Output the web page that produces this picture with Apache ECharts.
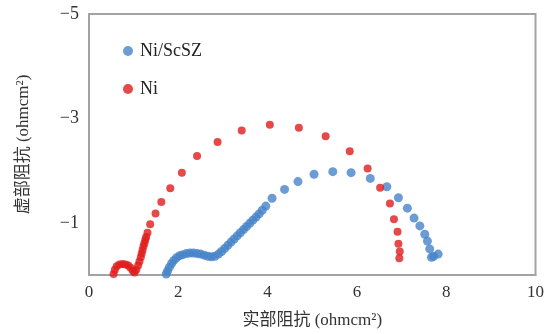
<!DOCTYPE html>
<html>
<head>
<meta charset="utf-8">
<script src="https://cdn.jsdelivr.net/npm/echarts@6/dist/echarts.min.js"></script>
<style>
  html, body { margin: 0; padding: 0; background: #fff; }
  #chart { width: 547px; height: 334px; }
</style>
</head>
<body>
<div id="chart"></div>
<script>
// Ni/ScSZ (blue)
const scszX = [1.73, 1.76, 1.80, 1.85, 1.90, 1.96, 2.03, 2.10, 2.18, 2.26, 2.34, 2.42, 2.50, 2.58, 2.66, 2.74, 2.82, 2.90, 2.97, 3.04, 3.11, 3.18, 3.25, 3.32, 3.39, 3.46, 3.53, 3.60, 3.67, 3.74, 3.81, 3.88, 3.96, 4.10, 4.38, 4.68, 5.04, 5.46, 5.87, 6.30, 6.67, 6.93, 7.13, 7.28, 7.41, 7.52, 7.58, 7.63, 7.67, 7.72, 7.82];
const scszY = [-0.02, -0.08, -0.15, -0.22, -0.28, -0.33, -0.37, -0.39, -0.41, -0.42, -0.42, -0.41, -0.40, -0.38, -0.36, -0.35, -0.36, -0.40, -0.45, -0.51, -0.57, -0.63, -0.69, -0.75, -0.81, -0.87, -0.93, -0.99, -1.05, -1.11, -1.17, -1.24, -1.32, -1.47, -1.64, -1.79, -1.93, -1.98, -1.96, -1.85, -1.69, -1.48, -1.28, -1.09, -0.94, -0.78, -0.65, -0.50, -0.34, -0.36, -0.40];

// Ni (red)
const niX = [0.55, 0.58, 0.62, 0.68, 0.75, 0.82, 0.88, 0.93, 0.98, 1.02, 1.06, 1.10, 1.13, 1.16, 1.18, 1.20, 1.22, 1.24, 1.26, 1.28, 1.31, 1.37, 1.49, 1.62, 1.82, 2.08, 2.42, 2.88, 3.42, 4.05, 4.70, 5.30, 5.84, 6.24, 6.52, 6.74, 6.83, 6.91, 6.93, 6.96, 6.95];
const niY = [-0.02, -0.10, -0.17, -0.20, -0.21, -0.20, -0.18, -0.14, -0.08, -0.05, -0.10, -0.18, -0.26, -0.34, -0.41, -0.48, -0.55, -0.61, -0.67, -0.73, -0.81, -0.97, -1.18, -1.40, -1.66, -1.96, -2.28, -2.55, -2.77, -2.88, -2.82, -2.66, -2.37, -2.04, -1.67, -1.37, -1.07, -0.83, -0.60, -0.45, -0.32];

const seriesNames = ["Ni/ScSZ", "Ni"];

function pairs(xs, ys) {
  return xs.map((x, i) => [x, ys[i]]);
}

const serif = "'Liberation Serif', 'Times New Roman', serif";
const cjk = "'Liberation Serif', 'Noto Sans CJK SC', serif";

const chart = echarts.init(document.getElementById("chart"));
chart.setOption({
  animation: false,
  grid: {
    left: 89, right: 9, top: 14, bottom: 58,
    show: true,
    borderColor: "#a3a3a3",
    borderWidth: 2
  },
  legend: {
    orient: "vertical",
    left: 118, top: 37,
    itemGap: 20,
    itemWidth: 10, itemHeight: 10,
    textStyle: { fontFamily: serif, fontSize: 18, color: "#222", padding: [0, 0, 0, 2] },
    data: [
      { name: seriesNames[0], icon: "circle" },
      { name: seriesNames[1], icon: "circle" }
    ]
  },
  xAxis: {
    type: "value",
    min: 0, max: 10, interval: 2,
    name: "实部阻抗 (ohmcm²)",
    nameLocation: "middle",
    nameGap: 37,
    nameTextStyle: { fontFamily: cjk, fontSize: 17, color: "#333" },
    axisLine: { show: true, lineStyle: { color: "#a3a3a3", width: 2 } },
    axisTick: { show: false },
    splitLine: { show: false },
    axisLabel: { fontFamily: serif, fontSize: 17, color: "#333", margin: 9 }
  },
  yAxis: {
    type: "value",
    inverse: true,
    min: -5, max: 0, interval: 1,
    name: "虚部阻抗 (ohmcm²)",
    nameLocation: "middle",
    nameGap: 57,
    nameTextStyle: { fontFamily: cjk, fontSize: 17, color: "#333" },
    axisLine: { show: true, lineStyle: { color: "#a3a3a3", width: 2 } },
    axisTick: { show: false },
    splitLine: { show: false },
    axisLabel: {
      fontFamily: serif, fontSize: 18, color: "#333", margin: 10,
      formatter: v => (Math.abs(v) % 2 === 1 ? "−" + Math.abs(v) : "")
    }
  },
  series: [
    {
      name: seriesNames[0],
      type: "scatter",
      symbolSize: 9,
      itemStyle: { color: "#4683c8" },
      data: pairs(scszX, scszY)
    },
    {
      name: seriesNames[1],
      type: "scatter",
      symbolSize: 8,
      itemStyle: { color: "#e01c1c" },
      data: pairs(niX, niY)
    }
  ]
});
</script>
</body>
</html>
